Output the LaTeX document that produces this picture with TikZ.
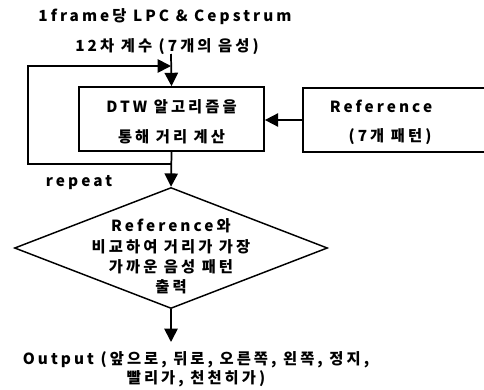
\documentclass[tikz,border=0pt]{standalone}
\usepackage{fontspec}
\setmainfont{Noto Sans CJK KR}[LetterSpace=20]
\usetikzlibrary{arrows.meta,shapes.geometric}
\tikzset{
  line/.style={line width=1.3pt},
  arr/.style={line, -{Triangle[length=10pt,width=10pt]}},
  box/.style={draw, line width=1.3pt, rectangle, inner sep=0pt},
  txt/.style={font=\fontsize{11.5}{14}\selectfont\bfseries, align=center, inner sep=0pt},
}
\begin{document}
\begin{tikzpicture}[x=0.75pt,y=-0.75pt]
\clip (0,0) rectangle (484,389);
\fill[white] (0,0) rectangle (484,389);
% input text
\node[txt] (in1) at (165,17) {1frame당 LPC \& Cepstrum};
\node[txt] (in2) at (167,47) {12차 계수 (7개의 음성)};
\coordinate (inTop) at (171,54);
% DTW box
\node[box, minimum width=138.75pt, minimum height=48pt] (dtw) at (171.5,119) {};
\node[txt] (dtwA) at (171.5,107) {DTW 알고리즘을};
\node[txt] (dtwB) at (171.5,137) {통해 거리 계산};
% Reference box (extends past the right edge)
\node[box, minimum width=150pt, minimum height=48pt, anchor=west] (ref) at (302,120) {};
\node[txt] (refA) at (381,106) {Reference};
\node[txt] (refB) at (390,137) {(7개 패턴)};
% diamond
\node[draw, line width=1.1pt, diamond, aspect=2.587, minimum width=234.75pt, minimum height=90.75pt, inner sep=0pt] (dia) at (171,248) {};
\node[txt] (diaA) at (171,226) {Reference와};
\node[txt] (diaB) at (171,247) {비교하여 거리가 가장};
\node[txt] (diaC) at (171,267) {가까운 음성 패턴};
\node[txt] (diaD) at (171,287) {출력};
% repeat label
\node[txt] (rep) at (79,183) {repeat};
% output
\coordinate (outTip) at (171,342);
\node[txt] (outA) at (196,360) {Output (앞으로, 뒤로, 오른쪽, 왼쪽, 정지,};
\node[txt] (outB) at (196,379) {빨리가, 천천히가)};
% connectors
\draw[arr] (inTop) -- (dtw.north);
\draw[arr] (ref.west |- 0,120) -- (dtw.east |- 0,120);
\draw[arr] (dtw.south) -- (dia.north);
\coordinate (lp1) at (171,164);
\coordinate (lp2) at (28,164);
\coordinate (lp3) at (28,66);
\coordinate (lp4) at (171,66);
\draw[arr] (lp1) -- (lp2) -- (lp3) -- (lp4);
\draw[arr] (dia.south) -- (outTip);
\end{tikzpicture}
\end{document}
